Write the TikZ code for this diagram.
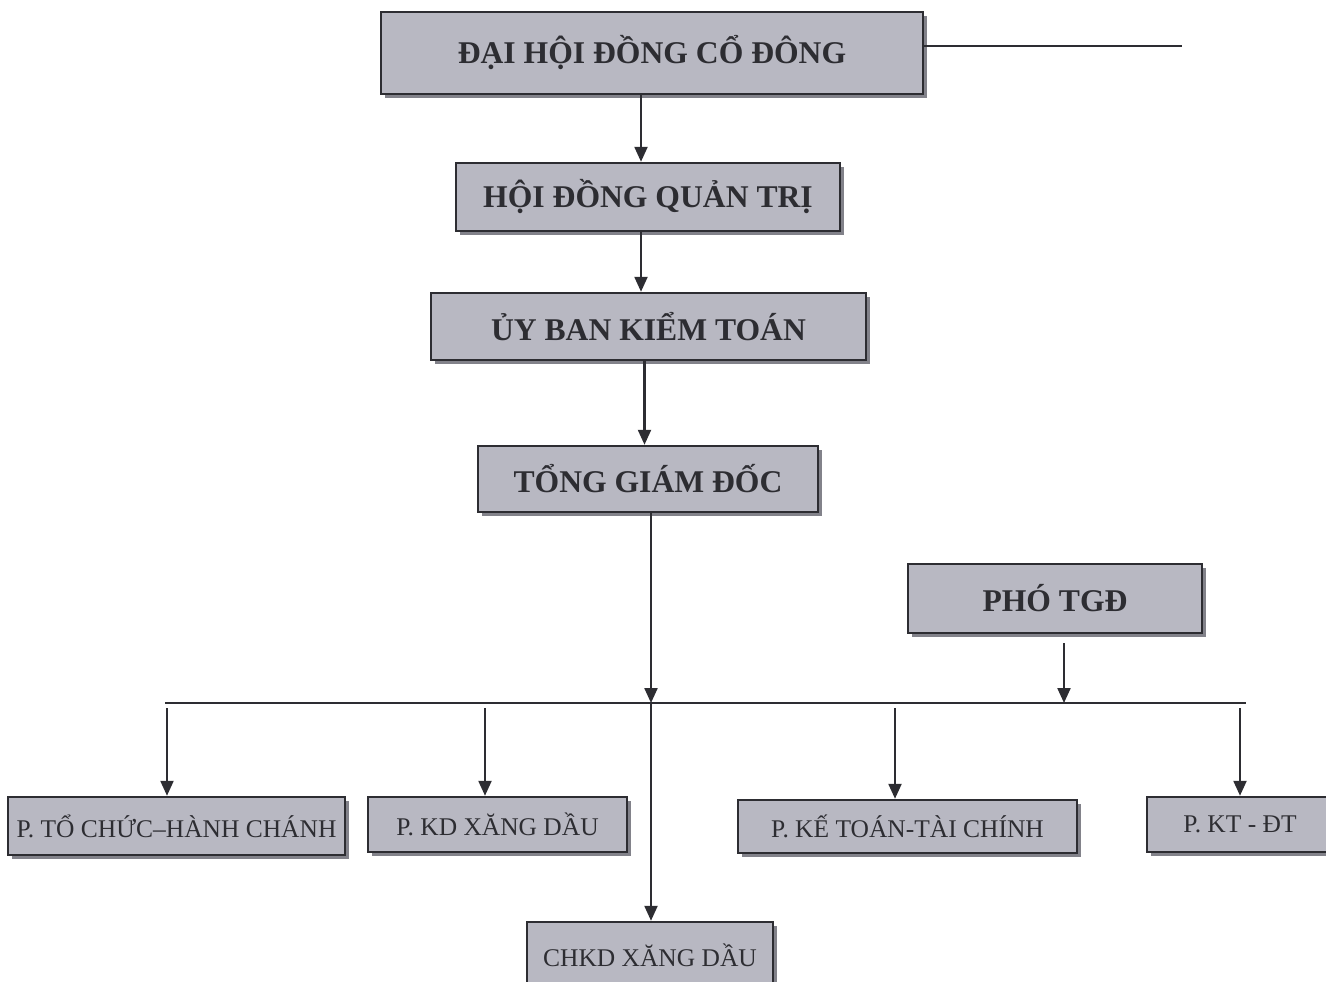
\documentclass[tikz,border=0pt]{standalone}
\usepackage{fontspec}
\setmainfont{Liberation Serif}
\usetikzlibrary{arrows.meta,shadows,positioning}
\definecolor{hopxam}{RGB}{184,184,194}
\definecolor{bong}{RGB}{130,130,138}
\definecolor{net}{RGB}{45,45,50}
\tikzset{
  khoi/.style={draw=net,line width=1.4pt,fill=hopxam,text=net,inner sep=0pt,
    font=\fontsize{18}{21}\selectfont\bfseries,
    drop shadow={shadow xshift=0.08cm,shadow yshift=-0.08cm,fill=bong,opacity=1}},
  phong/.style={khoi,font=\fontsize{14.5}{17}\selectfont},
  noi/.style={-{Triangle[length=0.3cm,width=0.26cm]},line width=1.3pt,draw=net},
  truc/.style={line width=1.3pt,draw=net}
}

\begin{document}
\begin{tikzpicture}
\clip (0,0) rectangle (26.52,-19.62);
% cac khoi chinh
\node[khoi,minimum width=10.84cm,minimum height=1.64cm] (dhdcd) at (13.04,-1.06) {ĐẠI HỘI ĐỒNG CỔ ĐÔNG};
\node[khoi,minimum width=7.68cm,minimum height=1.36cm] (hdqt) at (12.96,-3.94) {HỘI ĐỒNG QUẢN TRỊ};
\node[khoi,minimum width=8.70cm,minimum height=1.34cm] (ubkt) at (12.97,-6.53) {ỦY BAN KIỂM TOÁN};
\node[khoi,minimum width=6.80cm,minimum height=1.32cm] (tgd) at (12.96,-9.58) {TỔNG GIÁM ĐỐC};
\node[khoi,minimum width=5.88cm,minimum height=1.38cm] (ptgd) at (21.10,-11.97) {PHÓ TGĐ};
% cac phong
\node[phong,minimum width=6.74cm,minimum height=1.16cm] (ptc) at (3.53,-16.52) {P. TỔ CHỨC–HÀNH CHÁNH};
\node[phong,minimum width=5.18cm,minimum height=1.10cm] (pkd) at (9.95,-16.49) {P. KD XĂNG DẦU};
\node[phong,minimum width=6.78cm,minimum height=1.06cm] (pkt) at (18.15,-16.53) {P. KẾ TOÁN-TÀI CHÍNH};
\node[phong,minimum width=3.72cm,minimum height=1.10cm] (pktdt) at (24.80,-16.49) {P. KT - ĐT};
\node[phong,minimum width=4.92cm,minimum height=1.32cm] (chkd) at (13.00,-19.10) {CHKD XĂNG DẦU};
% duong ngang
\coordinate (phai) at (23.64,-0.92);
\coordinate (tT) at (3.30,-14.06);
\coordinate (tP) at (24.92,-14.06);
\draw[truc] ([yshift=0.14cm]dhdcd.east) -- (phai);
\draw[truc] (tT) -- (tP);
% mui ten doc
\draw[noi] ([xshift=-0.22cm]dhdcd.south) -- ([xshift=-0.22cm]dhdcd.south |- hdqt.north);
\draw[noi] ([xshift=-0.14cm]hdqt.south) -- ([xshift=-0.14cm]hdqt.south |- ubkt.north);
\draw[noi] ([xshift=-0.08cm]ubkt.south) -- ([xshift=-0.08cm]ubkt.south |- tgd.north);
\draw[noi] ([xshift=0.06cm]tgd.south) -- ([xshift=0.06cm]tgd.south |- tT);
\draw[noi] ([xshift=0.06cm]tgd.south |- tT) -- ([xshift=0.06cm]tgd.south |- chkd.north);
\draw[noi,shorten <=0.18cm] ([xshift=0.18cm]ptgd.south) -- ([xshift=0.18cm]ptgd.south |- tT);
% xuong cac phong
\draw[noi,shorten <=0.1cm] ([xshift=-0.19cm]ptc.north |- tT) -- ([xshift=-0.19cm]ptc.north);
\draw[noi,shorten <=0.1cm] ([xshift=-0.25cm]pkd.north |- tT) -- ([xshift=-0.25cm]pkd.north);
\draw[noi,shorten <=0.1cm] ([xshift=-0.25cm]pkt.north |- tT) -- ([xshift=-0.25cm]pkt.north);
\draw[noi,shorten <=0.1cm] (pktdt.north |- tT) -- (pktdt.north);
\end{tikzpicture}
\end{document}
